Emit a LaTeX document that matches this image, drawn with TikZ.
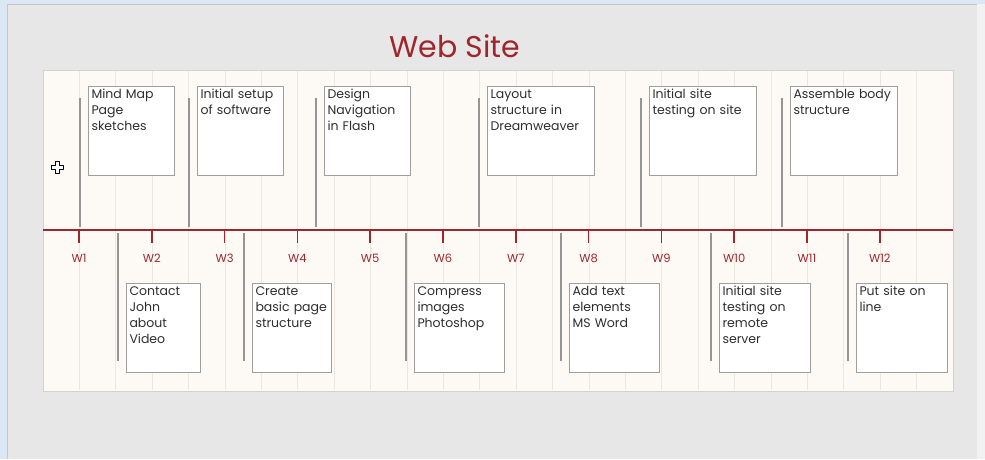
\documentclass[tikz,border=0pt]{standalone}
\usepackage{fontspec}
\setmainfont{Poppins}
\usepackage{xcolor,tikz}
\usetikzlibrary{positioning,calc}
\definecolor{webred}{HTML}{A0262D}
\definecolor{panelbg}{HTML}{FDFAF6}
\definecolor{pagebg}{HTML}{E7E7E7}
\definecolor{stripblue}{HTML}{DCE7F5}
\definecolor{gridline}{HTML}{ECE6DF}
\definecolor{stemgray}{HTML}{959595}
\definecolor{tasktext}{HTML}{2E2E2E}

\begin{document}
\begin{tikzpicture}[x=1pt,y=-1pt,
  box/.style={draw=gray!75,line width=1pt,fill=white,anchor=north west,align=left,text width=#1,
    inner sep=3pt,text height=9pt,text depth=74pt,text=tasktext,font=\fontsize{12.5}{16}\selectfont},
  stem/.style={draw=stemgray,line width=1.1pt},
  tick/.style={draw=webred,line width=1.5pt},
  wk/.style={text=webred,font=\fontsize{11.5}{12}\selectfont}]
\useasboundingbox (0,0) rectangle (985,459);
% page and window frame
\fill[pagebg] (0,0) rectangle (985,459);
\fill[stripblue] (0,0) rectangle (985,4);
\fill[stripblue] (0,0) rectangle (7,459);
\draw[gray!45] (7,459) -- (7,4) -- (985,4);
\fill[gray!10] (977,4) rectangle (985,459);
\node[text=webred,font=\fontsize{30}{32}\selectfont] (ttl) at (455,46) {Web Site};
% timeline panel
\fill[panelbg] (43,70) rectangle (953,391);
\foreach \k in {0,...,23}
  \draw[gridline,line width=0.7pt] ({79.4+36.4*\k},71) -- ({79.4+36.4*\k},390);
\draw[gray!35] (43,70) rectangle (953,391);
\draw[webred,line width=2.2pt] (43,230) coordinate (tl) -- (953,230) coordinate (tr);
\foreach \i in {1,...,12}{
  \coordinate (w\i) at ({79+72.8*(\i-1)},230);
  \draw[tick] (w\i) -- ++(0,13);
  \node[wk] (lw\i) at ($(w\i)+(0,28)$) {W\i};
}
% tasks above the line
\node[box=80pt] (mindmap) at (88,86) {Mind Map\\Page\\sketches};
\node[box=80pt] (setup) at (197,86) {Initial setup\\of software};
\node[box=80pt] (design) at (324,86) {Design\\Navigation\\in Flash};
\node[box=101pt] (layout) at (487,86) {Layout\\structure in\\Dreamweaver};
\node[box=101pt] (testsite) at (649,86) {Initial site\\testing on site};
\node[box=101pt] (assemble) at (790,86) {Assemble body\\structure};
\foreach \t in {mindmap,setup,design,layout,testsite,assemble}
  \draw[stem] ($(\t.north west)+(-8,12)$) -- ($(\t.north west)+(-8,141)$);
% tasks below the line
\node[box=68pt] (contact) at (126,283) {Contact\\John\\about\\Video};
\node[box=73pt] (basic) at (252,283) {Create\\basic page\\structure};
\node[box=84pt] (compress) at (414,283) {Compress\\images\\Photoshop};
\node[box=84pt] (addtext) at (569,283) {Add text\\elements\\MS Word};
\node[box=85pt] (remote) at (719,283) {Initial site\\testing on\\remote\\server};
\node[box=85pt] (online) at (856,283) {Put site on\\line};
\foreach \t in {contact,basic,compress,addtext,remote,online}
  \draw[stem] ($(\t.north west)+(-8,-50)$) -- ($(\t.north west)+(-8,78)$);
% move cursor
\draw[fill=white,line width=0.9pt,line join=round]
  (55,161) -- (59,161) -- (59,165) -- (63,165) -- (63,169) -- (59,169) -- (59,173)
  -- (55,173) -- (55,169) -- (51,169) -- (51,165) -- (55,165) -- cycle;
\end{tikzpicture}
\end{document}
